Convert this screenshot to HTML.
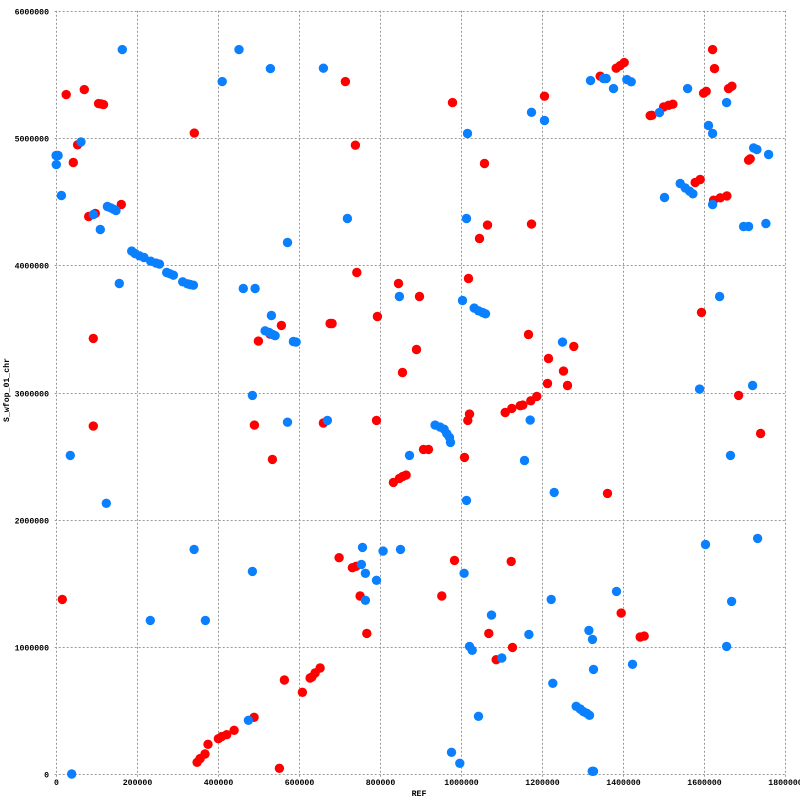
<!DOCTYPE html>
<html><head><meta charset="utf-8"><style>
html,body{margin:0;padding:0;background:#fff;}
svg{display:block;}
text{font-family:"Liberation Mono","DejaVu Sans Mono",monospace;font-size:8.2px;font-weight:bold;fill:#000;}
</style></head><body>
<svg id="chart" width="800" height="800" viewBox="0 0 800 800" xmlns="http://www.w3.org/2000/svg">
<rect width="800" height="800" fill="#fff"/>
<g id="grid"></g>
<g id="ticks"></g>
<g id="pts"></g>
<text x="419" y="796" text-anchor="middle">REF</text>
<text x="9" y="390" text-anchor="middle" transform="rotate(-90 9 390)">S_wfop_01_chr</text>
</svg>
<script>
const xTicks=[0,200000,400000,600000,800000,1000000,1200000,1400000,1600000,1800000];
const yTicks=[0,1000000,2000000,3000000,4000000,5000000,6000000];
const redX=[26000,70700,112000,106000,118000,342000,54000,43500,81400,97800,162000,92900,92900,16400,564500,609000,632000,652600,640200,627900,489600,440200,401500,409800,422100,376000,368600,356300,348900,552100,715100,979300,1206500,739800,1058300,1065700,1046000,1174400,1621200,1626100,1383400,1393300,1403100,1343900,1599000,1605600,1660700,1669000,1467300,1471500,1500300,1512600,1523300,1714200,1710100,1578400,1590800,1623700,1640200,1656600,743100,846000,897800,1018800,677300,682200,794100,1167000,1216300,890400,855900,1213900,1109300,1125800,1146400,1152900,1172700,1187500,1021300,1017200,660800,791700,907700,920000,1008900,833600,848400,856700,864900,529000,557000,500300,490400,534900,1594000,1278800,1253300,1263200,1685400,1739700,1362000,699500,732400,741500,751300,767800,984200,1124200,953000,1069000,1127500,1087100,1395700,1442600,1452500];
const redY=[5341000,5380000,5268000,5270000,5262000,5038000,4946000,4807000,4383000,4407000,4477000,3425000,2736000,1374000,741000,644000,764000,835000,796000,757000,447600,345500,280000,296000,311500,235600,159700,123000,94200,47100,5443000,5278000,5328000,4943000,4799000,4315000,4210000,4323000,5694600,5545000,5548000,5569000,5592500,5485000,5352000,5367000,5388000,5407000,5176000,5178000,5244000,5257000,5265000,4836000,4825000,4650000,4674000,4511000,4530000,4545000,3943000,3856600,3754000,3896000,3542000,3542000,3597000,3456000,3267500,3338000,3157500,3071000,2843000,2875000,2896000,2901000,2935000,2969000,2830000,2780500,2760000,2781000,2553000,2553000,2490000,2294000,2325000,2341000,2351000,3459000,3527000,3404000,2744000,2474000,3629000,3362000,3168000,3055000,2977000,2678000,2207000,1702000,1623000,1634000,1401000,1107000,1681000,1673000,1401000,1107000,997000,900600,1267000,1078600,1086000];
const blueX=[164500,411000,452500,530000,62500,1000,6000,1600,14000,93000,127500,135700,142300,148900,110200,572000,187500,195800,206500,218000,234500,247600,255900,274000,282200,290400,313500,325000,331600,339800,157000,463000,492100,532400,516800,526600,535700,541500,586700,593300,485500,572000,36100,125000,341500,485500,233600,369400,475600,39400,660800,1174400,1206500,1016300,720000,1013900,1358700,1352000,1320000,1409700,1420400,1376800,1559500,1655800,1490300,1611300,1621200,1722400,1730700,1759500,1541400,1553800,1564500,1572700,1502700,1621200,1697700,1710100,1752900,848400,1004000,1032800,1043500,1053400,1060800,1171000,670700,936500,948800,958700,965300,971900,974400,873100,1157100,1013900,1638500,1250900,1589100,1720000,1665600,1230300,757100,808100,850900,754600,764500,791700,764500,1008100,1075600,1167800,1021300,1027900,1101100,1222900,1043500,976800,997400,1603900,1732300,1384200,1668100,1315900,1324900,1655800,1423700,1327400,1227000,1284600,1294500,1302700,1311000,1317600,1327400,1324100];
const blueY=[5694600,5443000,5694600,5545000,4969000,4862000,4862000,4791000,4548000,4399000,4461500,4451000,4440600,4430100,4281000,4179000,4110700,4092000,4074000,4061000,4032000,4017000,4009000,3943000,3932500,3922000,3869600,3854000,3849000,3843500,3856600,3817000,3817000,3605000,3485000,3472000,3456000,3446000,3401000,3396000,2977000,2767000,2506000,2129000,1767000,1594000,1209500,1209500,424000,2600,5548000,5202000,5137000,5035000,4367000,4367000,5467000,5467000,5451000,5459000,5441000,5388000,5388000,5278000,5200000,5098000,5035000,4922000,4909000,4870000,4642000,4608000,4582000,4561000,4532000,4477000,4304000,4304000,4328000,3754000,3723000,3663000,3642000,3629000,3618000,2783000,2781000,2744000,2728000,2712000,2676000,2647000,2608000,2506000,2466000,2152000,3754000,3396000,3027000,3055000,2506000,2215000,1783000,1754000,1767000,1649000,1579000,1524000,1367000,1579000,1251000,1099500,1005000,974000,913700,1374000,455500,172800,86400,1806000,1853500,1437000,1358700,1131000,1060000,1005000,864000,824600,714700,534000,513000,492000,479000,463400,23500,23500];
const X0=55.7,X1=785,Y0=774.3,Y1=10.7,XMAX=1800000,YMAX=6000000;
function sx(v){return X0+(X1-X0)*v/XMAX;}
function sy(v){return Y0-(Y0-Y1)*v/YMAX;}
const NS="http://www.w3.org/2000/svg";
const grid=document.getElementById('grid'),ticks=document.getElementById('ticks'),pts=document.getElementById('pts');
xTicks.forEach(function(t){
  const x=Math.round(sx(t))+0.5;
  const l=document.createElementNS(NS,'line');
  l.setAttribute('x1',x);l.setAttribute('x2',x);l.setAttribute('y1',sy(YMAX));l.setAttribute('y2',Y0+4);
  l.setAttribute('stroke','#999');l.setAttribute('stroke-dasharray','2,2');
  
  
  grid.appendChild(l);
  const tx=document.createElementNS(NS,'text');
  tx.setAttribute('x',x);tx.setAttribute('y',785);tx.setAttribute('text-anchor','middle');
  tx.textContent=String(t);
  
  
  ticks.appendChild(tx);
});
yTicks.forEach(function(t){
  const y=Math.round(sy(t))+0.5;
  const l=document.createElementNS(NS,'line');
  l.setAttribute('x1',X0-1);l.setAttribute('x2',sx(XMAX));l.setAttribute('y1',y);l.setAttribute('y2',y);
  l.setAttribute('stroke','#999');l.setAttribute('stroke-dasharray','2,2');
  
  
  grid.appendChild(l);
  const tx=document.createElementNS(NS,'text');
  tx.setAttribute('x',49);tx.setAttribute('y',y+3);tx.setAttribute('text-anchor','end');
  tx.textContent=String(t);
  
  
  ticks.appendChild(tx);
});
function dots(xs,ys,color,name){
  for(let i=0;i<xs.length;i++){
    const c=document.createElementNS(NS,'circle');
    c.setAttribute('cx',sx(xs[i]).toFixed(1));c.setAttribute('cy',sy(ys[i]).toFixed(1));
    c.setAttribute('r',4.7);c.setAttribute('fill',color);
    
    
    pts.appendChild(c);
  }
}
dots(redX,redY,'#ff0000','red-point');
dots(blueX,blueY,'#0a80ff','blue-point');
</script>
</body></html>
